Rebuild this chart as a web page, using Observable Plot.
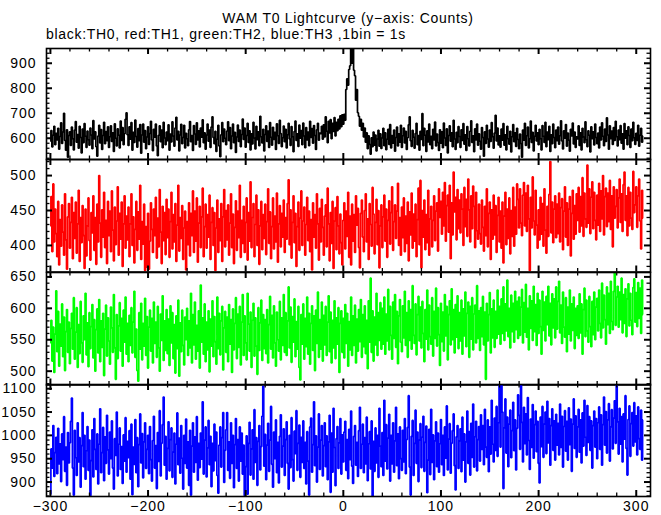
<!DOCTYPE html>
<html>
<head>
<meta charset="utf-8">
<script src="https://cdn.jsdelivr.net/npm/d3@7"></script>
<script src="https://cdn.jsdelivr.net/npm/@observablehq/plot@0.6"></script>
<style>
  body { margin: 0; background: #fff; }
  #chart { position: relative; width: 661px; height: 515px; background: #fff; font-family: "Liberation Sans", Arial, sans-serif; color: #000; }
  .ttl { position: absolute; font-size: 14px; line-height: 16px; letter-spacing: 0.7px; white-space: pre; }
  #chart svg { position: absolute; left: 0; }
</style>
</head>
<body>
<div id="chart">
  <div class="ttl" id="title"></div>
  <div class="ttl" id="subtitle"></div>
</div>
<script>
// ---------------- data ----------------
const titleText = "WAM T0 Lightcurve (y\u2212axis: Counts)";
const subtitleText = "black:TH0, red:TH1, green:TH2, blue:TH3 ,1bin = 1s";

const binStart = -300;   // first bin time (s)
const binWidth = 1;      // 1 bin = 1 s

// TH0 (black) counts per 1 s bin, from t = -300 s
const th0 = [
588,631,565,612,648,574,620,593,640,556,607,662,579,625,700,591,552,634,524,611,
626,571,645,598,553,633,667,584,615,560,648,603,541,637,582,659,608,563,629,594,
572,641,613,558,671,597,626,566,528,609,652,581,635,555,611,664,578,627,590,646,
563,606,650,587,622,547,658,600,569,638,612,561,669,591,643,574,618,676,702,614,
571,646,596,663,552,624,583,673,607,564,639,590,655,540,613,657,584,631,558,605,
646,575,619,668,593,550,636,604,657,569,530,612,650,586,633,562,664,601,574,625,
590,654,552,617,585,666,609,568,641,684,593,628,549,613,656,578,603,652,561,620,
598,570,634,667,586,611,551,651,617,575,662,593,630,565,641,604,674,582,622,556,
613,657,588,633,563,645,686,603,578,628,547,596,652,569,526,614,663,586,637,600,
574,629,666,590,643,558,609,657,582,624,543,605,653,587,633,566,615,677,595,641,
564,611,660,583,630,553,618,577,664,601,557,648,594,626,570,688,606,581,636,549,
615,650,587,629,563,663,604,572,644,595,624,555,658,610,579,672,619,566,602,649,
586,636,561,614,660,597,571,647,606,546,627,669,591,618,567,653,600,631,574,661,
609,562,643,593,625,570,668,603,639,580,651,611,555,634,660,592,621,618,648,596,
654,605,686,628,582,668,621,675,598,660,627,683,609,664,630,676,637,690,646,694,
656,696,672,795,838,812,875,890,995,900,1015,872,850,752,795,702,688,648,676,632,
660,605,641,584,622,558,610,575,536,602,566,625,572,613,549,597,632,568,618,559,
601,640,570,622,554,596,636,575,655,561,611,580,633,548,603,645,569,618,584,652,
563,610,641,581,628,555,602,654,686,590,567,632,604,560,619,660,574,611,552,628,
595,699,570,640,612,547,630,585,657,574,608,558,636,593,665,569,617,583,551,634,
580,626,562,661,601,571,638,541,611,650,588,622,566,672,597,555,624,582,647,607,
563,634,591,659,576,614,551,647,598,569,628,670,583,610,546,638,593,657,572,618,
588,556,643,603,528,626,579,652,597,564,633,587,663,606,560,621,692,589,641,573,
610,564,637,592,659,572,614,553,648,598,576,628,545,606,655,586,622,567,640,595,
558,617,579,524,633,592,660,571,610,645,561,598,669,583,624,549,608,652,589,622,
574,636,598,553,651,608,583,664,566,625,594,648,547,614,578,657,603,562,633,590,
645,576,610,670,589,557,630,600,655,568,621,592,548,636,609,661,577,625,563,606,
597,650,571,622,553,640,605,582,666,594,566,630,612,545,646,598,626,573,657,603,
578,621,561,645,593,662,608,570,637,587,682,613,556,650,598,629,575,643,591,668,
606,569,633,594,651,580,618,556,659,600,630,574,646,611,563,637,590,664,602,575,
620,591,652,568,612,640,584,609
];

// TH1 (red)
const th1 = [
428,470,391,488,405,452,417,384,463,372,437,399,458,419,386,474,408,366,441,460,
396,433,469,381,447,410,462,389,431,479,377,440,404,457,414,367,452,385,428,468,
407,379,447,418,471,393,440,373,459,405,500,432,383,451,412,476,397,436,374,463,
414,449,391,478,422,378,455,401,435,484,386,446,409,462,370,431,471,396,442,408,
455,384,431,474,400,441,375,423,463,393,448,409,486,380,434,402,459,364,427,369,
446,366,406,461,423,390,452,414,469,382,439,398,480,419,374,456,407,447,387,466,
411,452,383,434,476,395,444,405,460,377,429,486,392,440,410,457,380,425,449,365,
434,401,461,385,446,414,478,390,449,406,468,376,432,456,397,441,482,384,427,459,
396,444,412,472,380,433,454,400,447,364,425,465,390,438,407,460,377,441,480,398,
450,408,458,386,432,474,397,445,374,426,464,393,449,411,486,383,436,403,456,390,
433,468,379,447,406,491,397,440,460,384,430,472,400,451,373,428,463,394,444,410,
459,387,434,481,403,448,381,427,468,395,442,405,475,376,431,457,398,446,412,465,
390,440,409,460,494,401,451,382,433,471,404,446,370,427,462,393,439,478,400,435,
455,386,430,469,407,449,391,437,365,461,412,444,396,474,431,379,453,405,466,426,
386,442,458,398,482,431,378,447,403,463,367,435,454,394,470,428,388,445,404,372,
436,461,395,449,413,476,383,442,372,459,406,444,390,471,429,453,397,368,446,465,
412,391,450,474,405,438,380,460,430,399,483,445,388,433,466,401,450,368,428,458,
397,441,472,406,452,383,436,464,402,447,484,393,434,458,410,449,489,400,440,386,
455,411,468,391,442,403,462,378,448,415,475,396,445,406,459,384,437,482,401,493,
368,450,412,465,394,444,404,479,386,438,456,398,436,471,407,449,461,392,481,440,
463,416,476,428,490,406,457,472,419,486,381,461,415,505,448,469,408,480,424,465,
418,474,452,400,483,427,466,413,495,451,405,471,424,485,456,397,476,421,409,459,
417,402,465,426,392,456,414,481,398,446,462,380,451,409,472,415,457,390,443,469,
405,449,396,462,375,442,476,401,452,410,468,388,450,413,483,399,455,416,488,466,
425,481,432,414,472,490,428,475,420,486,438,364,469,425,498,435,415,479,429,396,
451,408,469,416,460,399,481,422,389,456,413,473,520,418,462,404,452,471,411,459,
417,475,405,454,467,394,449,484,412,461,400,452,470,385,446,479,409,457,416,474,
436,483,419,470,428,497,413,475,438,426,515,432,481,417,469,491,424,476,436,408,
472,429,489,420,478,438,500,415,470,482,427,475,434,493,423,471,398,484,439,456,
480,425,468,495,433,474,420,487,505,436,471,414,483,428,476,439,423,506,447,458,
484,426,471,495,435,395,479,439
];

// TH2 (green)
const th2 = [
545,581,516,570,498,559,628,531,595,508,575,540,607,523,586,501,563,598,530,578,
512,568,592,535,617,519,562,601,506,574,528,611,545,514,588,550,624,526,577,507,
593,536,571,606,521,582,500,566,599,529,614,515,580,538,592,493,567,605,524,585,
548,511,602,569,530,622,537,487,590,520,572,609,532,584,508,597,546,618,527,576,
515,589,541,601,529,578,627,522,567,501,484,593,535,608,518,576,540,616,525,587,
505,570,597,532,584,513,610,544,578,522,603,537,500,591,549,620,517,580,533,598,
528,583,509,604,545,593,520,574,497,588,536,613,492,577,531,597,541,510,586,550,
600,525,580,537,624,513,590,542,610,519,573,532,596,505,637,546,585,527,607,515,
578,534,596,499,583,540,612,523,587,547,511,618,536,592,526,580,603,502,569,595,
530,586,515,606,543,582,498,599,534,576,617,520,591,538,603,510,578,622,525,588,
545,518,624,575,532,594,506,581,608,524,585,540,495,601,533,577,613,517,590,536,
582,528,598,513,574,619,535,589,521,604,545,508,594,550,532,611,518,585,541,622,
530,593,525,580,634,537,602,514,587,546,615,523,579,535,603,506,486,590,543,607,
519,584,539,618,527,592,511,576,604,533,588,501,597,544,626,522,582,535,610,516,
589,542,603,525,578,620,531,594,513,581,537,612,520,585,543,601,498,576,596,530,
584,521,606,544,592,508,579,534,618,525,588,541,605,513,583,532,598,547,614,522,
590,539,604,528,581,504,612,546,648,530,596,516,586,542,624,525,593,549,609,535,
600,543,618,527,591,548,630,534,603,557,519,610,552,622,538,595,512,588,614,546,
531,604,553,627,541,593,522,612,549,598,535,636,557,544,607,526,590,619,548,602,
537,611,560,515,598,551,629,534,605,555,543,617,524,595,552,632,540,601,558,509,
608,547,594,532,622,556,603,518,590,612,542,631,550,598,529,606,554,620,536,593,
548,613,527,599,556,626,539,592,610,522,603,551,617,534,591,605,545,636,552,596,
533,601,555,619,542,594,487,608,548,590,625,529,599,553,613,538,595,552,629,559,
603,543,615,560,634,549,607,564,645,555,600,537,621,563,608,546,627,566,611,552,
618,557,602,630,545,609,562,638,554,600,534,620,568,612,549,635,563,606,541,624,
560,613,571,527,627,565,610,548,619,574,635,556,608,542,623,569,615,553,634,567,
611,643,561,605,544,626,570,554,617,531,602,559,629,548,607,565,618,536,600,557,
604,552,623,561,607,527,598,632,555,613,564,546,619,571,539,611,558,626,550,602,
616,564,629,576,553,640,569,621,582,543,634,574,624,560,643,579,566,627,665,573,
618,635,570,626,582,648,561,622,576,631,555,615,639,572,624,581,558,633,647,578,
625,571,641,584,632,560,645,590
];

// TH3 (blue)
const th3 = [
874,971,930,1021,912,963,996,918,1015,939,982,901,1003,948,1040,923,975,893,1006,941,
984,1030,1080,930,872,1011,952,914,1027,943,995,889,978,1049,933,1000,906,967,1019,925,
990,871,946,1012,911,1036,970,927,1003,896,981,1057,920,963,1017,903,997,940,1043,969,
917,1007,950,1031,930,885,993,957,1050,913,981,1016,927,976,897,1001,945,1038,921,987,
952,1010,906,1024,873,975,938,1034,920,995,890,980,1046,941,1004,909,986,1027,929,970,
1000,918,1019,948,902,989,1041,930,978,886,1006,944,1053,913,983,1023,1082,936,998,906,
972,1029,924,991,1016,910,964,1005,896,981,1048,937,994,919,1021,951,885,1000,940,1035,
930,986,893,1011,872,977,1027,921,997,942,1040,904,983,931,1005,949,1072,917,990,1018,
911,973,1032,937,998,890,983,924,1024,946,1007,914,876,979,1018,932,995,1049,899,968,
1012,1049,925,986,908,1027,940,1000,888,980,1036,929,991,902,1018,945,1005,917,979,871,
933,999,874,983,1028,915,971,1012,906,1055,942,995,893,987,1021,926,976,1041,1105,934,
1002,905,979,1026,923,990,1062,938,889,1007,950,1033,920,985,898,998,1044,932,977,1014,
914,991,1029,940,885,1000,931,1038,948,902,1009,961,1053,925,983,1022,910,996,942,1031,
929,985,896,1008,945,872,1018,1037,921,980,1072,935,999,900,975,1046,927,990,1021,913,
978,1027,933,999,905,986,1043,878,1005,921,1058,974,892,993,1019,929,984,1036,917,1001,
943,1007,1030,925,991,907,1013,948,1052,934,897,998,1021,936,985,912,1010,1060,929,981,
1024,920,995,939,1039,903,982,1008,928,1031,870,987,923,1016,941,1000,910,1058,977,933,
1006,914,1075,945,1023,928,994,1045,902,1000,939,1027,921,988,1060,935,1003,907,1018,950,
925,1011,943,1036,918,991,1017,1085,932,872,998,1032,914,983,1054,940,1007,901,990,1025,
931,996,1041,923,985,1020,877,947,1013,916,1056,942,1001,905,988,1029,933,1005,921,982,
1034,937,1000,914,1018,951,1063,926,992,1025,919,983,1010,1046,935,883,997,1021,929,988,
1014,922,1039,947,1003,900,986,1052,940,1008,915,1026,953,1067,932,997,1030,924,991,1019,
945,1044,970,1021,937,1056,975,953,1033,922,1018,960,1075,981,943,1037,968,1062,955,1027,
1115,975,1108,1050,886,1016,1078,962,1039,933,1024,1054,952,1010,1071,967,1033,926,1015,1087,
1043,970,1112,1028,943,1060,982,1046,958,1081,989,927,1035,974,1066,951,1023,1052,965,1030,
940,898,1039,976,1062,953,1024,1050,961,1073,984,1036,936,1021,1057,968,1031,947,1045,979,
1026,958,1067,974,1041,932,1019,1053,966,1030,947,1059,980,1035,923,1024,1078,972,1042,953,
1018,1056,964,1033,941,1048,977,1075,996,957,1064,985,1040,968,1031,930,1021,1052,975,1036,
950,1027,1061,970,1044,936,1023,1082,979,1051,962,1033,1068,945,1018,1055,971,1037,1074,983,
1115,1029,960,1058,981,1040,943,1046,992,1085,972,915,1034,1063,955,1025,1049,977,1070,986,
1042,958,1061,993,970,1054,947,1033
];

// axis ticks and ranges
const xDomain = [-304, 314.6];
const xTickLabels = [-300, -200, -100, 0, 100, 200, 300];
const xMinorStep = 20;
const panelSeries = [th0, th1, th2, th3];
const panelColors = ["#000000", "#ff0000", "#00ff00", "#0000ff"];
const panelYDomains = [[515, 959], [362, 523], [478, 657], [869, 1109]];
const panelYTicks = [[600, 700, 800, 900], [400, 450, 500], [500, 550, 600, 650], [900, 950, 1000, 1050, 1100]];
const panelYMinorStep = [20, 10, 10, 10];

// ---------------- layout ----------------
const W = 661, ML = 46, MR = 11, PAD = 10;
const panelTops = [48, 159, 271.5, 384];
const frameBottom = 496;
const innerW = W - ML - MR;
const fontCSS = "14px 'Liberation Sans', Arial, sans-serif";

const titleEl = document.getElementById("title");
titleEl.textContent = titleText;
const subEl = document.getElementById("subtitle");
subEl.textContent = subtitleText;
subEl.style.left = ML + "px";
subEl.style.top = "26px";

const chart = document.getElementById("chart");
const xMinor = d3.range(-300, 314, xMinorStep).filter(v => !xTickLabels.includes(v));
const fmt = d => d < 0 ? "\u2212" + Math.abs(d) : String(d);

panelSeries.forEach((vals, p) => {
  const top = panelTops[p];
  const bottom = p < 3 ? panelTops[p + 1] : frameBottom;
  const innerH = bottom - top;
  const isLast = p === 3;
  const mb = isLast ? 26 : PAD;
  const [lo, hi] = panelYDomains[p];
  const majors = panelYTicks[p];
  const step = panelYMinorStep[p];
  const minors = d3.range(Math.ceil(lo / step) * step, hi, step).filter(v => !majors.includes(v));
  const marks = [
    Plot.lineY(vals, {x: (d, i) => binStart + i * binWidth, y: d => d, stroke: panelColors[p], strokeWidth: 1.7, curve: "step", clip: true, strokeLinejoin: "miter", strokeLinecap: "butt"}),
    Plot.tickX(xTickLabels, {x: d => d, insetTop: innerH - 6, strokeWidth: 2, stroke: "black"}),
    Plot.tickX(xTickLabels, {x: d => d, insetBottom: innerH - 6, strokeWidth: 2, stroke: "black"}),
    Plot.tickX(xMinor, {x: d => d, insetTop: innerH - 3.5, strokeWidth: 1.3, stroke: "black"}),
    Plot.tickX(xMinor, {x: d => d, insetBottom: innerH - 3.5, strokeWidth: 1.3, stroke: "black"}),
    Plot.tickY(majors, {y: d => d, insetRight: innerW - 6, strokeWidth: 2, stroke: "black"}),
    Plot.tickY(majors, {y: d => d, insetLeft: innerW - 6, strokeWidth: 2, stroke: "black"}),
    Plot.tickY(minors, {y: d => d, insetRight: innerW - 3.5, strokeWidth: 1.3, stroke: "black"}),
    Plot.tickY(minors, {y: d => d, insetLeft: innerW - 3.5, strokeWidth: 1.3, stroke: "black"}),
    Plot.frame({stroke: "black", strokeWidth: 1.6}),
    Plot.axisY({ticks: majors, tickSize: 0, tickPadding: 10, label: null, anchor: "left", fill: "black", tickFormat: fmt})
  ];
  if (isLast) {
    marks.push(Plot.axisX({ticks: xTickLabels, tickSize: 0, tickPadding: 5, label: null, anchor: "bottom", fill: "black", tickFormat: fmt}));
  }
  const svg = Plot.plot({
    width: W,
    height: innerH + PAD + mb,
    marginLeft: ML,
    marginRight: MR,
    marginTop: PAD,
    marginBottom: mb,
    x: isLast ? {domain: xDomain} : {domain: xDomain, axis: null},
    y: {domain: [lo, hi]},
    style: {font: fontCSS, letterSpacing: "1px", background: "transparent", overflow: "visible", color: "black"},
    marks
  });
  svg.style.top = (top - PAD) + "px";
  svg.style.position = "absolute";
  chart.appendChild(svg);
});

// center title over the plotting area
const tw = titleEl.getBoundingClientRect().width;
titleEl.style.left = (ML + innerW / 2 - tw / 2) + "px";
titleEl.style.top = "10px";
</script>
</body>
</html>
